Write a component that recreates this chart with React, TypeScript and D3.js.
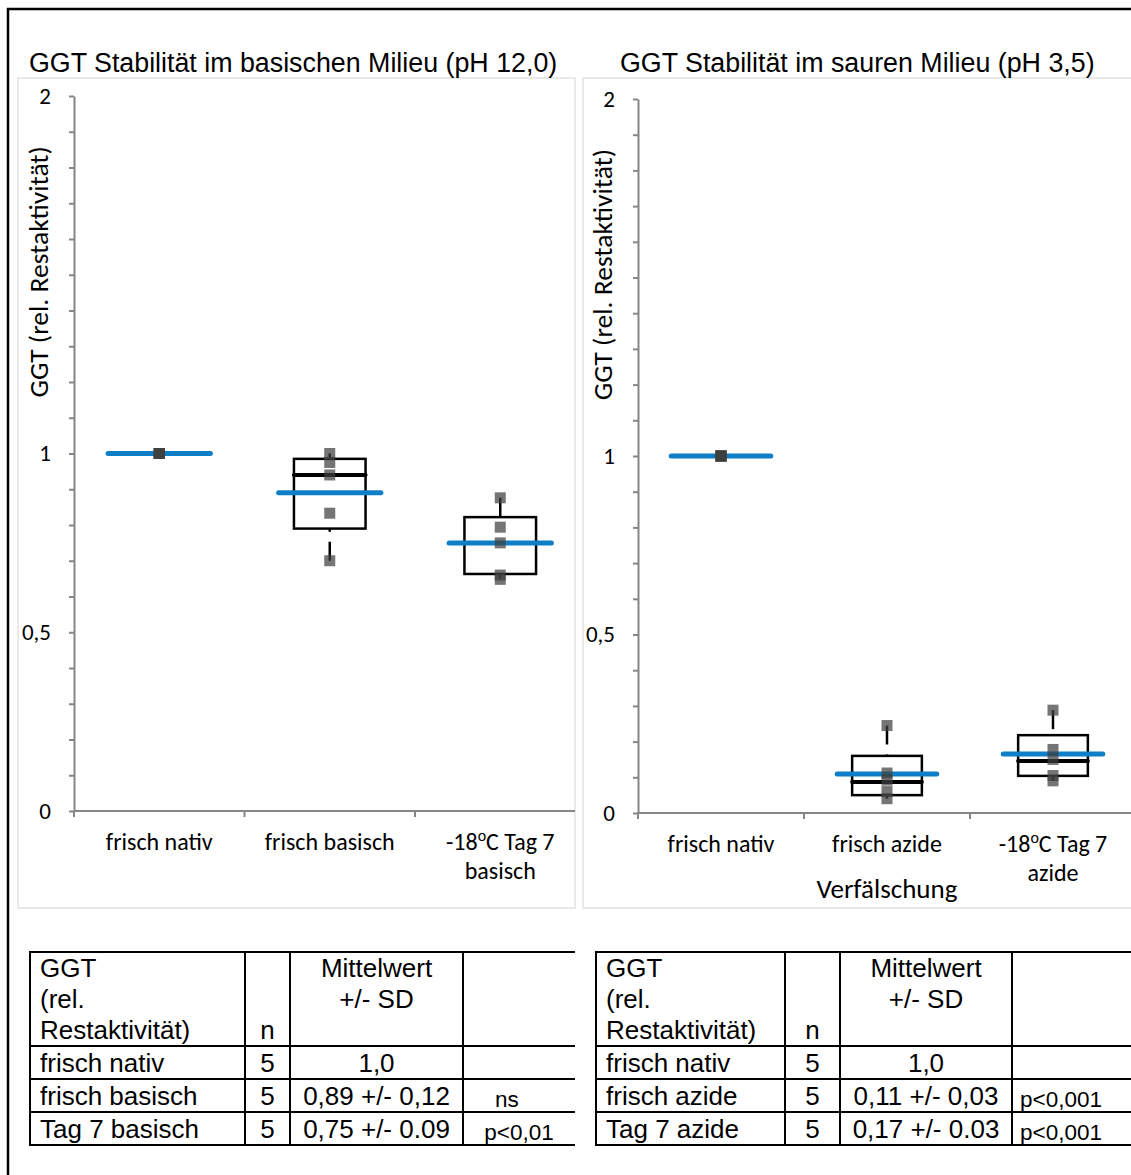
import { useRef, useEffect } from 'react'
import * as d3 from 'd3'

const leftTitle = 'GGT Stabilität im basischen Milieu (pH 12,0)'
const rightTitle = 'GGT Stabilität im sauren Milieu (pH 3,5)'
const yAxisTitle = 'GGT (rel. Restaktivität)'
const rightXAxisTitle = 'Verfälschung'

const yTicks = d3.range(0, 21).map(i => i / 10)
const yLabeled = [0, 0.5, 1, 2]

const leftCategories = [['frisch nativ'], ['frisch basisch'], ['-18°C Tag 7', 'basisch']]
const leftPoints = [
  [1, 1, 1, 1, 1],
  [1.0, 0.975, 0.94, 0.833, 0.7],
  [0.876, 0.794, 0.75, 0.66, 0.648],
]
const leftMean = [1.0, 0.89, 0.75]
const leftQ1 = [1, 0.79, 0.663]
const leftMedian = [1, 0.94, 0.75]
const leftQ3 = [1, 0.985, 0.822]
const leftMin = [1, 0.7, 0.65]
const leftMax = [1, 1.0, 0.876]

const rightCategories = [['frisch nativ'], ['frisch azide'], ['-18°C Tag 7', 'azide']]
const rightPoints = [
  [1, 1, 1, 1, 1],
  [0.245, 0.112, 0.092, 0.06, 0.04],
  [0.288, 0.178, 0.15, 0.105, 0.09],
]
const rightMean = [1.0, 0.109, 0.165]
const rightQ1 = [1, 0.05, 0.104]
const rightMedian = [1, 0.087, 0.146]
const rightQ3 = [1, 0.16, 0.218]
const rightMin = [1, 0.04, 0.09]
const rightMax = [1, 0.245, 0.288]

const tableHeader = [['GGT', '(rel.', 'Restaktivität)'], ['', '', 'n'], ['Mittelwert', '+/- SD'], []]
const leftRows = [
  ['frisch nativ', '5', '1,0', ''],
  ['frisch basisch', '5', '0,89 +/- 0,12', 'ns'],
  ['Tag 7 basisch', '5', '0,75 +/- 0.09', 'p<0,01'],
]
const rightRows = [
  ['frisch nativ', '5', '1,0', ''],
  ['frisch azide', '5', '0,11 +/- 0,03', 'p<0,001'],
  ['Tag 7 azide', '5', '0,17 +/- 0.03', 'p<0,001'],
]

const CAL = 'Carlito, Lato, sans-serif'
const ARIAL = 'Arial, "Liberation Sans", sans-serif'
const blue = '#0e7fc6'
const axisGray = '#868686'

interface PanelData {
  title: string
  categories: string[][]
  points: number[][]
  mean: number[]
  q1: number[]
  median: number[]
  q3: number[]
  min: number[]
  max: number[]
  xTitle?: string
}

interface PanelLayout {
  frame: [number, number, number, number]
  titleX: number
  x0: number
  x1: number
  axisEnd: number
  yBottom: number
  yTop: number
}

function drawPanel(svg: d3.Selection<SVGSVGElement, unknown, null, undefined>, d: PanelData, l: PanelLayout) {
  const [fx0, fy0, fx1, fy1] = l.frame
  svg.append('rect')
    .attr('x', fx0).attr('y', fy0)
    .attr('width', fx1 - fx0).attr('height', fy1 - fy0)
    .attr('fill', 'none').attr('stroke', '#e2e2e2').attr('stroke-width', 1.5)

  svg.append('text')
    .attr('x', l.titleX).attr('y', 72)
    .attr('font-family', ARIAL).attr('font-size', 26.8)
    .text(d.title)

  const idx = d.categories.map((_, i) => String(i))
  const x = d3.scaleBand().domain(idx).range([l.x0, l.x1]).paddingInner(0).paddingOuter(0)
  const y = d3.scaleLinear().domain([0, 2]).range([l.yBottom, l.yTop])

  // y axis
  const yAxis = svg.append('g')
    .attr('transform', `translate(${l.x0},0)`)
    .call(d3.axisLeft(y).tickValues(yTicks).tickSize(5).tickSizeOuter(0)
      .tickFormat(v => yLabeled.includes(+v) ? String(v).replace('.', ',') : ''))
  yAxis.select('.domain').attr('stroke', axisGray).attr('stroke-width', 2)
  yAxis.selectAll('.tick line').attr('stroke', axisGray).attr('stroke-width', 2)
  yAxis.selectAll('.tick text')
    .attr('font-family', CAL).attr('font-size', 23).attr('fill', '#000').attr('x', -23)

  svg.append('text')
    .attr('transform', `translate(${l.x0 - 26},${(y(1) + y(2)) / 2 - 3}) rotate(-90)`)
    .attr('text-anchor', 'middle')
    .attr('font-family', CAL).attr('font-size', 27.5)
    .text(yAxisTitle)

  // x axis
  svg.append('line')
    .attr('x1', l.x0).attr('x2', l.axisEnd)
    .attr('y1', l.yBottom).attr('y2', l.yBottom)
    .attr('stroke', axisGray).attr('stroke-width', 2)
  idx.forEach(c => {
    const tx = x(c)!
    svg.append('line')
      .attr('x1', tx).attr('x2', tx)
      .attr('y1', l.yBottom).attr('y2', l.yBottom + 6)
      .attr('stroke', axisGray).attr('stroke-width', 2)
  })

  const bw = x.bandwidth()
  d.categories.forEach((lines, i) => {
    const cx = x(String(i))! + bw / 2
    lines.forEach((line, j) => {
      const t = svg.append('text')
        .attr('x', cx).attr('y', l.yBottom + 39 + j * 29)
        .attr('text-anchor', 'middle')
        .attr('font-family', CAL).attr('font-size', 24)
      const parts = line.split('°')
      if (parts.length > 1) {
        t.append('tspan').text(parts[0])
        t.append('tspan').attr('font-size', 16).attr('dy', -9).text('o')
        t.append('tspan').attr('dy', 9).text(parts[1])
      } else {
        t.text(line)
      }
    })
  })

  if (d.xTitle) {
    svg.append('text')
      .attr('x', x('1')! + bw / 2).attr('y', l.yBottom + 85)
      .attr('text-anchor', 'middle')
      .attr('font-family', CAL).attr('font-size', 27)
      .text(d.xTitle)
  }

  const boxW = bw * 0.42
  const meanW = bw * 0.6
  const g = svg.append('g')

  d.categories.forEach((_, i) => {
    const cx = x(String(i))! + bw / 2
    // whiskers, drawn from the extreme toward the box
    const whisk = [[d.max[i], d.q3[i]], [d.min[i], d.q1[i]]]
    whisk.forEach(([from, to]) => {
      if (from === to) return
      g.append('line')
        .attr('x1', cx).attr('x2', cx)
        .attr('y1', y(from)).attr('y2', y(to))
        .attr('stroke', '#000').attr('stroke-width', 2.5)
        .attr('stroke-dasharray', '19,10')
    })
    if (d.q3[i] !== d.q1[i]) {
      g.append('rect')
        .attr('x', cx - boxW / 2).attr('y', y(d.q3[i]))
        .attr('width', boxW).attr('height', y(d.q1[i]) - y(d.q3[i]))
        .attr('fill', 'none').attr('stroke', '#000').attr('stroke-width', 2.5)
      g.append('line')
        .attr('x1', cx - boxW / 2).attr('x2', cx + boxW / 2)
        .attr('y1', y(d.median[i])).attr('y2', y(d.median[i]))
        .attr('stroke', '#000').attr('stroke-width', 4).attr('stroke-linecap', 'round')
    }
    g.append('line')
      .attr('x1', cx - meanW / 2).attr('x2', cx + meanW / 2)
      .attr('y1', y(d.mean[i])).attr('y2', y(d.mean[i]))
      .attr('stroke', blue).attr('stroke-width', 5).attr('stroke-linecap', 'round')
    g.selectAll(null)
      .data(d.points[i])
      .join('rect')
      .attr('x', cx - 5.5)
      .attr('y', v => y(v) - 5.5)
      .attr('width', 11).attr('height', 11)
      .attr('fill', '#404040').attr('fill-opacity', 0.72)
  })
}

function drawTable(svg: d3.Selection<SVGSVGElement, unknown, null, undefined>, rows: string[][], cols: number[], lastAlignStart: boolean) {
  const top = 952
  const headH = 94
  const rowH = 33
  const bottom = top + headH + rowH * rows.length
  const lineAttrs = (sel: d3.Selection<SVGLineElement, unknown, null, undefined>) =>
    sel.attr('stroke', '#000').attr('stroke-width', 2)

  const hy = [top, top + headH, ...rows.map((_, i) => top + headH + rowH * (i + 1))]
  hy.forEach(yy => {
    svg.append('line').attr('x1', cols[0] - 1).attr('x2', cols[cols.length - 1]).attr('y1', yy).attr('y2', yy).call(lineAttrs)
  })
  cols.slice(0, -1).forEach(cx => {
    svg.append('line').attr('x1', cx).attr('x2', cx).attr('y1', top).attr('y2', bottom).call(lineAttrs)
  })

  const cell = (txt: string, ci: number, yy: number) => {
    if (!txt) return
    const small = ci === 3
    const left = cols[ci]
    const right = cols[ci + 1]
    let xx = (left + right) / 2
    let anchor = 'middle'
    if (ci === 0) { xx = left + 10; anchor = 'start' }
    if (small) {
      if (lastAlignStart) { xx = left + 8; anchor = 'start' } else { xx -= txt.length < 3 ? 12 : 0 }
    }
    svg.append('text')
      .attr('x', xx).attr('y', yy)
      .attr('text-anchor', anchor)
      .attr('font-family', ARIAL).attr('font-size', small ? 22.5 : 26)
      .text(txt)
  }

  tableHeader.forEach((lines, ci) => {
    lines.forEach((t, j) => cell(t, ci, top + 25 + j * 31))
  })
  rows.forEach((r, ri) => {
    const base = top + headH + rowH * ri + 26
    r.forEach((t, ci) => cell(t, ci, ci === 3 ? base + 2 : base))
  })
}

export default function App() {
  const svgRef = useRef<SVGSVGElement>(null)

  useEffect(() => {
    if (!svgRef.current) return
    const svg = d3.select(svgRef.current)
    svg.selectAll('*').remove()

    svg.append('rect').attr('x', 0).attr('y', 0).attr('width', 1131).attr('height', 1175).attr('fill', '#fff')
    svg.append('rect')
      .attr('x', 8).attr('y', 9).attr('width', 1300).attr('height', 1300)
      .attr('fill', 'none').attr('stroke', '#000').attr('stroke-width', 2.5)

    drawPanel(svg, {
      title: leftTitle, categories: leftCategories, points: leftPoints, mean: leftMean,
      q1: leftQ1, median: leftMedian, q3: leftQ3, min: leftMin, max: leftMax,
    }, { frame: [18, 78, 575, 908], titleX: 29, x0: 74, x1: 585.5, axisEnd: 575, yBottom: 811, yTop: 96 })

    drawPanel(svg, {
      title: rightTitle, categories: rightCategories, points: rightPoints, mean: rightMean,
      q1: rightQ1, median: rightMedian, q3: rightQ3, min: rightMin, max: rightMax,
      xTitle: rightXAxisTitle,
    }, { frame: [583, 78, 1145, 908], titleX: 620, x0: 638, x1: 1136, axisEnd: 1131, yBottom: 813, yTop: 99 })

    drawTable(svg, leftRows, [30, 245, 290, 463, 575], false)
    drawTable(svg, rightRows, [596, 785, 840, 1012, 1131], true)
  }, [])

  return (
    <svg ref={svgRef} width={1131} height={1175}
      style={{ position: 'absolute', left: 0, top: 0, display: 'block' }} />
  )
}
